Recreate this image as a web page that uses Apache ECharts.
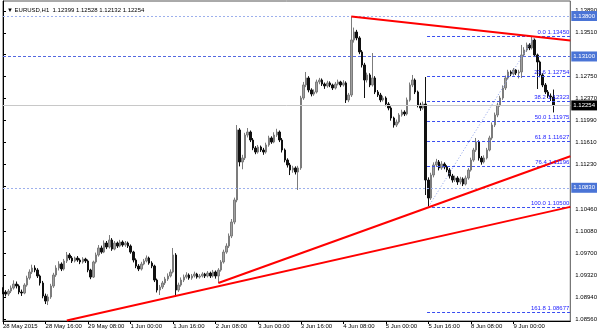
<!DOCTYPE html>
<html><head><meta charset="utf-8">
<script src="https://cdn.jsdelivr.net/npm/echarts@6.0.0/dist/echarts.min.js"></script>
<style>html,body{margin:0;padding:0;background:#fff}#c{width:600px;height:333px}</style>
</head><body><div id="c"></div>
<script>
const symbolName = 'EURUSD,H1';
const opens = [
1.09062,1.09028,1.08993,1.09045,1.09097,1.09166,1.09132,1.09028,1.09011,1.09149,
1.09270,1.09374,1.09443,1.09408,1.09305,1.09184,1.08959,1.08872,1.08942,1.09132,
1.09322,1.09443,1.09512,1.09426,1.09564,1.09668,1.09616,1.09564,1.09616,1.09581,
1.09547,1.09598,1.09564,1.09408,1.09287,1.09547,1.09668,1.09789,1.09719,1.09875,
1.09806,1.09927,1.09771,1.09875,1.09823,1.09892,1.09841,1.09875,1.09823,1.09719,
1.09581,1.09477,1.09426,1.09512,1.09564,1.09616,1.09529,1.09477,1.09235,1.09062,
1.09114,1.09184,1.09253,1.09305,1.09374,1.09668,1.09062,1.09149,1.09235,1.09287,
1.09322,1.09270,1.09305,1.09339,1.09287,1.09305,1.09339,1.09305,1.09356,1.09305,
1.09374,1.09305,1.09408,1.09547,1.09719,1.09823,1.09996,1.10238,1.10619,1.11829,
1.11276,1.11345,1.11742,1.11794,1.11656,1.11518,1.11448,1.11535,1.11483,1.11448,
1.11570,1.11691,1.11621,1.11742,1.11794,1.11656,1.11483,1.11310,1.11224,1.11137,
1.11172,1.11103,1.11172,1.12382,1.12607,1.12728,1.12521,1.12451,1.12486,1.12659,
1.12693,1.12624,1.12590,1.12642,1.12607,1.12555,1.12624,1.12659,1.12607,1.12642,
1.12348,1.12434,1.13385,1.13523,1.13420,1.13178,1.12953,1.12693,1.12780,1.12607,
1.12728,1.12486,1.12434,1.12348,1.12382,1.12278,1.12209,1.12036,1.11915,1.11967,
1.12088,1.12140,1.12106,1.12348,1.12607,1.12693,1.12486,1.12261,1.12209,1.12278,
1.10964,1.10653,1.11051,1.11224,1.11276,1.11172,1.11241,1.11189,1.11137,1.11034,
1.10964,1.10999,1.10930,1.10982,1.10895,1.10999,1.11137,1.11310,1.11483,1.11621,
1.11345,1.11276,1.11345,1.11483,1.11691,1.11915,1.12088,1.12261,1.12382,1.12555,
1.12728,1.12832,1.12797,1.12866,1.12814,1.12832,1.13126,1.13212,1.13299,1.13247,
1.13385,1.13126,1.13005,1.12780,1.12607,1.12486,1.12417,1.12399];
const highs = [
1.09110,1.09060,1.09080,1.09140,1.09230,1.09210,1.09160,1.09070,1.09180,1.09310,
1.09420,1.09500,1.09490,1.09440,1.09330,1.09220,1.09000,1.08990,1.09170,1.09360,
1.09490,1.09560,1.09540,1.09600,1.09720,1.09700,1.09650,1.09640,1.09650,1.09610,
1.09630,1.09620,1.09590,1.09430,1.09570,1.09710,1.09840,1.09830,1.09920,1.09910,
1.10013,1.09960,1.09910,1.09900,1.09930,1.09920,1.09910,1.09900,1.09850,1.09740,
1.09610,1.09510,1.09550,1.09600,1.09660,1.09640,1.09560,1.09500,1.09260,1.09150,
1.09220,1.09290,1.09350,1.09420,1.09789,1.09700,1.09190,1.09280,1.09330,1.09370,
1.09350,1.09340,1.09380,1.09360,1.09340,1.09370,1.09360,1.09390,1.09380,1.09410,
1.09400,1.09440,1.09580,1.09760,1.09870,1.10040,1.10290,1.10660,1.11915,1.11860,
1.11400,1.11780,1.11863,1.11820,1.11690,1.11550,1.11570,1.11560,1.11520,1.11610,
1.11730,1.11720,1.11790,1.11850,1.11820,1.11690,1.11510,1.11340,1.11260,1.11210,
1.11200,1.11210,1.12420,1.12660,1.12832,1.12760,1.12550,1.12530,1.12700,1.12730,
1.12720,1.12650,1.12680,1.12670,1.12630,1.12660,1.12700,1.12680,1.12690,1.12670,
1.12470,1.13790,1.13600,1.13560,1.13450,1.13210,1.12990,1.12820,1.12810,1.13160,
1.12760,1.12520,1.12470,1.12420,1.12410,1.12310,1.12240,1.12060,1.12010,1.12120,
1.12180,1.12170,1.12390,1.12650,1.12780,1.12720,1.12510,1.12300,1.12320,1.12745,
1.11010,1.11090,1.11270,1.11330,1.11310,1.11290,1.11270,1.11220,1.11170,1.11070,
1.11040,1.11030,1.11020,1.11010,1.11040,1.11170,1.11350,1.11520,1.11691,1.11650,
1.11380,1.11390,1.11520,1.11730,1.11960,1.12130,1.12300,1.12420,1.12600,1.12770,
1.12870,1.12860,1.12900,1.12880,1.12870,1.13299,1.13260,1.13340,1.13330,1.13450,
1.13410,1.13150,1.13030,1.12810,1.12640,1.12520,1.12460,1.12528];
const lows = [
1.08990,1.08950,1.08960,1.09010,1.09070,1.09090,1.08990,1.08960,1.08990,1.09120,
1.09240,1.09340,1.09370,1.09270,1.09140,1.08920,1.08820,1.08803,1.08910,1.09100,
1.09290,1.09400,1.09390,1.09400,1.09530,1.09580,1.09530,1.09540,1.09550,1.09510,
1.09520,1.09530,1.09370,1.09250,1.09270,1.09520,1.09640,1.09690,1.09700,1.09770,
1.09780,1.09740,1.09750,1.09790,1.09800,1.09810,1.09810,1.09790,1.09690,1.09540,
1.09440,1.09390,1.09400,1.09490,1.09540,1.09500,1.09440,1.09200,1.09020,1.08976,
1.09080,1.09150,1.09220,1.09280,1.09350,1.08942,1.09030,1.09120,1.09200,1.09260,
1.09240,1.09240,1.09280,1.09260,1.09260,1.09280,1.09270,1.09280,1.09270,1.09280,
1.09260,1.09184,1.09380,1.09520,1.09690,1.09790,1.09960,1.10200,1.10580,1.11200,
1.11150,1.11310,1.11700,1.11620,1.11480,1.11410,1.11420,1.11450,1.11400,1.11420,
1.11540,1.11590,1.11600,1.11710,1.11620,1.11440,1.11270,1.11180,1.11050,1.11090,
1.11060,1.10792,1.11140,1.12350,1.12570,1.12480,1.12410,1.12420,1.12460,1.12620,
1.12590,1.12540,1.12560,1.12570,1.12520,1.12530,1.12600,1.12570,1.12580,1.12296,
1.12310,1.12400,1.13340,1.13380,1.13140,1.12910,1.12382,1.12650,1.12570,1.12580,
1.12450,1.12400,1.12310,1.12320,1.12240,1.12170,1.11990,1.11870,1.11880,1.11940,
1.12060,1.12070,1.12080,1.12320,1.12570,1.12450,1.12220,1.12160,1.12180,1.10705,
1.10500,1.10620,1.11010,1.11190,1.11130,1.11140,1.11150,1.11100,1.10990,1.10920,
1.10930,1.10880,1.10890,1.10860,1.10870,1.10970,1.11110,1.11280,1.11450,1.11300,
1.11230,1.11250,1.11320,1.11460,1.11660,1.11880,1.12050,1.12230,1.12350,1.12520,
1.12700,1.12760,1.12770,1.12780,1.12720,1.12728,1.13090,1.13180,1.13210,1.13220,
1.13090,1.12538,1.12740,1.12570,1.12450,1.12380,1.12330,1.12132];
const closes = [
1.09028,1.08993,1.09045,1.09097,1.09166,1.09132,1.09028,1.09011,1.09149,1.09270,
1.09374,1.09443,1.09408,1.09305,1.09184,1.08959,1.08872,1.08942,1.09132,1.09322,
1.09443,1.09512,1.09426,1.09564,1.09668,1.09616,1.09564,1.09616,1.09581,1.09547,
1.09598,1.09564,1.09408,1.09287,1.09547,1.09668,1.09789,1.09719,1.09875,1.09806,
1.09927,1.09771,1.09875,1.09823,1.09892,1.09841,1.09875,1.09823,1.09719,1.09581,
1.09477,1.09426,1.09512,1.09564,1.09616,1.09529,1.09477,1.09235,1.09062,1.09114,
1.09184,1.09253,1.09305,1.09374,1.09668,1.09062,1.09149,1.09235,1.09287,1.09322,
1.09270,1.09305,1.09339,1.09287,1.09305,1.09339,1.09305,1.09356,1.09305,1.09374,
1.09305,1.09408,1.09547,1.09719,1.09823,1.09996,1.10238,1.10619,1.11829,1.11276,
1.11345,1.11742,1.11794,1.11656,1.11518,1.11448,1.11535,1.11483,1.11448,1.11570,
1.11691,1.11621,1.11742,1.11794,1.11656,1.11483,1.11310,1.11224,1.11137,1.11172,
1.11103,1.11172,1.12382,1.12607,1.12728,1.12521,1.12451,1.12486,1.12659,1.12693,
1.12624,1.12590,1.12642,1.12607,1.12555,1.12624,1.12659,1.12607,1.12642,1.12348,
1.12434,1.13385,1.13523,1.13420,1.13178,1.12953,1.12693,1.12780,1.12607,1.12728,
1.12486,1.12434,1.12348,1.12382,1.12278,1.12209,1.12036,1.11915,1.11967,1.12088,
1.12140,1.12106,1.12348,1.12607,1.12693,1.12486,1.12261,1.12209,1.12278,1.10964,
1.10653,1.11051,1.11224,1.11276,1.11172,1.11241,1.11189,1.11137,1.11034,1.10964,
1.10999,1.10930,1.10982,1.10895,1.10999,1.11137,1.11310,1.11483,1.11621,1.11345,
1.11276,1.11345,1.11483,1.11691,1.11915,1.12088,1.12261,1.12382,1.12555,1.12728,
1.12832,1.12797,1.12866,1.12814,1.12832,1.13126,1.13212,1.13299,1.13247,1.13385,
1.13126,1.13005,1.12780,1.12607,1.12486,1.12417,1.12399,1.12254];

const timeTickBars = [0,16,32,48,64,80,96,112,128,144,160,176,192];
const timeTickLabels = ['28 May 2015','28 May 16:00','29 May 08:00','1 Jun 00:00','1 Jun 16:00','2 Jun 08:00','3 Jun 00:00','3 Jun 16:00','4 Jun 08:00','5 Jun 00:00','5 Jun 16:00','8 Jun 08:00','9 Jun 00:00'];
const priceTicks = [1.13890,1.13510,1.13130,1.12750,1.12370,1.11990,1.11610,1.11230,1.10850,1.10460,1.10080,1.09700,1.09320,1.08940,1.08560];
const levelPrices = [1.13800, 1.13100, 1.10830];
const fibRatios = ['0.0','23.6','38.2','50.0','61.8','76.4','100.0','161.8'];
const fibPrices = [1.13450,1.12754,1.12323,1.11975,1.11627,1.11196,1.10500,1.08677];
const fibAnchorLow = [160, 1.10500];
const fibAnchorHigh = [200, 1.13450];
const trendLines = [
  [[24, 1.08535], [213.38, 1.10500]],
  [[81, 1.09184], [213.38, 1.11374]],
  [[131, 1.13790], [213.38, 1.13376]]
];

// ---- axis / layout settings ----
const X_MIN = 0, X_MAX = 213.38;
const Y_MIN = 1.08527, Y_MAX = 1.14059;
const FONT = 'Liberation Sans, Arial, sans-serif';
const last = closes.length - 1;
const currentPrice = closes[last];

const candleData = opens.map((o, i) => [i, o, closes[i], lows[i], highs[i]]);

const boxLabel = (txt, bg) => ({
  show: true, position: 'end', distance: 1, formatter: txt,
  backgroundColor: bg, color: '#fff', fontSize: 6, fontFamily: FONT,
  padding: [2, 2, 1, 2], lineHeight: 7
});

const markData = [];
const levelStyle = [
  {color: '#9db0ec', type: [2, 2]},
  {color: '#5468e0', type: [3, 2]},
  {color: '#9db0ec', type: [2, 2]}
];
const hLine = (p, style, label) => [
  { coord: [X_MIN, p], lineStyle: style, label: label },
  { coord: [X_MAX, p] }
];
markData.push(hLine(currentPrice, {color: '#c8c8c8', width: 1, type: 'solid'}, boxLabel(currentPrice.toFixed(5), '#000')));
levelPrices.forEach((p, k) => {
  markData.push(hLine(p, Object.assign({width: 1}, levelStyle[k]), boxLabel(p.toFixed(5), '#4a74d6')));
});
fibPrices.forEach((p, k) => {
  markData.push([
    { coord: [fibAnchorLow[0] - 0.5, p], lineStyle: {color: '#3a4ef0', width: 1, type: [3, 2]},
      label: { show: true, position: 'insideEndTop', distance: 1, formatter: fibRatios[k] + ' ' + p.toFixed(5),
               color: '#2424ff', fontSize: 6, fontFamily: FONT } },
    { coord: [X_MAX, p] }
  ]);
});
markData.push([
  { coord: fibAnchorLow, lineStyle: {color: '#8ea2ea', width: 1, type: [1, 2]}, label: {show: false} },
  { coord: fibAnchorHigh }
]);
trendLines.forEach(seg => {
  markData.push([
    { coord: seg[0], lineStyle: {color: '#ff0000', width: 2, type: 'solid'}, label: {show: false} },
    { coord: seg[1] }
  ]);
});

const chart = echarts.init(document.getElementById('c'), null, {renderer: 'canvas'});
chart.setOption({
  animation: false,
  backgroundColor: '#fff',
  textStyle: { fontFamily: FONT },
  title: {
    text: '\u25BC ' + symbolName + '  ' + [opens[last], highs[last], lows[last], closes[last]].map(v => v.toFixed(5)).join(' '),
    left: 2, top: 2,
    textStyle: { fontSize: 6, fontWeight: 'normal', color: '#000', fontFamily: FONT }
  },
  grid: { left: 1, right: 28, top: 1, bottom: 12, show: true, borderColor: '#555', borderWidth: 1, backgroundColor: '#fff' },
  xAxis: {
    type: 'value', min: X_MIN, max: X_MAX,
    axisLine: { show: true, lineStyle: { color: '#000', width: 1 } },
    axisTick: { show: true, customValues: timeTickBars, length: 3, lineStyle: { color: '#000' } },
    axisLabel: {
      customValues: timeTickBars, align: 'left', margin: 2, fontSize: 6, color: '#000', fontFamily: FONT,
      formatter: v => timeTickLabels[timeTickBars.indexOf(Math.round(v))] || ''
    },
    splitLine: { show: false }
  },
  yAxis: {
    type: 'value', position: 'right', min: Y_MIN, max: Y_MAX,
    axisLine: { show: true, lineStyle: { color: '#000', width: 1 } },
    axisTick: { show: true, customValues: priceTicks, length: 3, lineStyle: { color: '#000' } },
    axisLabel: { customValues: priceTicks, margin: 5, fontSize: 6, color: '#000', fontFamily: FONT, formatter: v => v.toFixed(5) },
    splitLine: { show: false }
  },
  series: [{
    type: 'candlestick',
    layout: 'horizontal',
    clip: false,
    barWidth: 2,
    encode: { x: 0, y: [1, 2, 3, 4] },
    data: candleData,
    itemStyle: { color: '#a0a0a0', borderColor: '#7c7c7c', color0: '#111', borderColor0: '#111', borderWidth: 1 },
    markLine: { silent: true, symbol: ['none', 'none'], animation: false, data: markData }
  }]
});
</script></body></html>
